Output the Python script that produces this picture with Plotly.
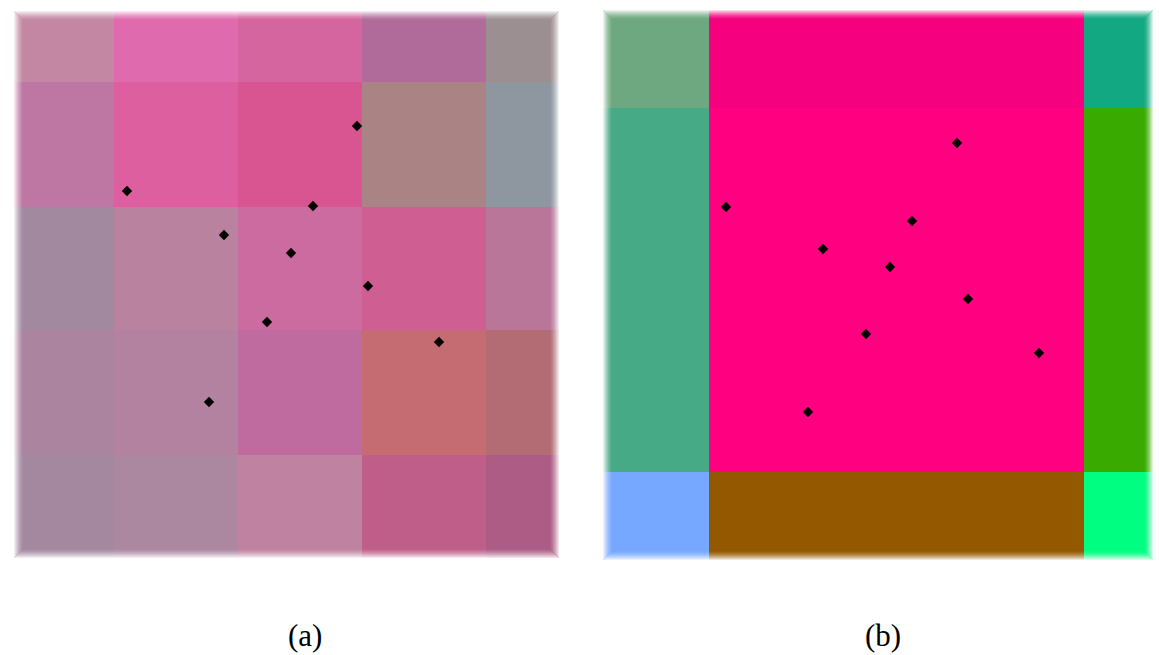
import plotly.graph_objects as go

# ---------------- data ----------------
# Panel (a): 5x5 grid of blended colours, non-uniform border cells
a_col_edges = [0, 100, 224, 348, 472, 545]
a_row_edges = [0, 71, 196, 319, 444, 547]
a_colors = [
    ["#c487a3", "#e06aae", "#d4659e", "#b06b9a", "#9b8f91"],
    ["#be77a3", "#de5f9f", "#d95591", "#aa8484", "#8e96a0"],
    ["#a389a0", "#b983a0", "#cc6ba0", "#cf5e93", "#b97698"],
    ["#ab84a0", "#b282a0", "#c06ba0", "#c46c72", "#b36c74"],
    ["#a4889f", "#ab88a0", "#bf82a0", "#bf5e88", "#ad5d85"],
]
a_pts_x = [113, 343, 299, 210, 277, 354, 253, 425, 195]
a_pts_y = [180, 115, 195, 224, 242, 275, 311, 331, 391]

# Panel (b): 3x3 grid of pure colours
b_col_edges = [0, 106, 481, 550]
b_row_edges = [0, 98, 462, 550]
b_colors = [
    ["#6ea880", "#f5007e", "#12a882"],
    ["#45aa85", "#ff0080", "#38aa00"],
    ["#76a8ff", "#945800", "#00ff80"],
]
b_pts_x = [354, 123, 309, 220, 287, 365, 263, 436, 205]
b_pts_y = [133, 197, 211, 239, 257, 289, 324, 343, 402]

captions = ["(a)", "(b)"]

# ---------------- layout geometry (pixels) ----------------
W, H = 1159, 655
panels = [
    dict(left=14, top=11, w=545, h=547, cap_x=305),
    dict(left=603, top=10, w=550, h=550, cap_x=883),
]


def grid_heatmap(col_edges, row_edges, colors, xa, ya):
    flat = [c for row in colors for c in row]
    n = len(flat)
    z = []
    k = 0
    for row in colors:
        zr = []
        for _ in row:
            zr.append(k)
            k += 1
        z.append(zr)
    cs = [[i / (n - 1), c] for i, c in enumerate(flat)]
    return go.Heatmap(
        x=col_edges, y=row_edges, z=z, colorscale=cs, zmin=0, zmax=n - 1,
        showscale=False, zsmooth=False, hoverinfo="skip", xaxis=xa, yaxis=ya,
    )


fig = go.Figure()
fig.add_trace(grid_heatmap(a_col_edges, a_row_edges, a_colors, "x", "y"))
fig.add_trace(grid_heatmap(b_col_edges, b_row_edges, b_colors, "x2", "y2"))

marker = dict(symbol="diamond", size=8, color="black")
fig.add_trace(go.Scatter(x=a_pts_x, y=a_pts_y, mode="markers", marker=marker,
                         xaxis="x", yaxis="y", hoverinfo="skip"))
fig.add_trace(go.Scatter(x=b_pts_x, y=b_pts_y, mode="markers", marker=marker,
                         xaxis="x2", yaxis="y2", hoverinfo="skip"))

layout_axes = {}
shapes = []
for i, p in enumerate(panels):
    sfx = "" if i == 0 else str(i + 1)
    xd = [p["left"] / W, (p["left"] + p["w"]) / W]
    yd = [1 - (p["top"] + p["h"]) / H, 1 - p["top"] / H]
    layout_axes["xaxis" + sfx] = dict(domain=xd, range=[0, p["w"]], visible=False,
                                      fixedrange=True, anchor="y" + sfx)
    layout_axes["yaxis" + sfx] = dict(domain=yd, range=[p["h"], 0], visible=False,
                                      fixedrange=True, anchor="x" + sfx)
    # soft faded border
    nsteps = 9
    for s in range(nsteps):
        d = s + 0.5
        shapes.append(dict(
            type="rect", xref="x" + sfx, yref="y" + sfx,
            x0=d, x1=p["w"] - d, y0=d, y1=p["h"] - d,
            line=dict(color="white", width=1), fillcolor="rgba(0,0,0,0)",
            opacity=0.85 * (1 - s / nsteps) ** 1.5, layer="above",
        ))

annotations = []
for i, p in enumerate(panels):
    annotations.append(dict(
        text=captions[i], xref="paper", yref="paper",
        x=p["cap_x"] / W, y=1 - 635 / H,
        xanchor="center", yanchor="middle", showarrow=False,
        font=dict(family="Liberation Serif, Times New Roman, serif", size=31, color="black"),
    ))

fig.update_layout(
    width=W, height=H, margin=dict(l=0, r=0, t=0, b=0),
    paper_bgcolor="white", plot_bgcolor="white", showlegend=False,
    shapes=shapes, annotations=annotations, **layout_axes,
)

fig.write_html(
    "out.html",
    config={"displayModeBar": False, "staticPlot": True},
    post_script="document.body.style.margin='0';document.body.style.overflow='hidden';",
)
